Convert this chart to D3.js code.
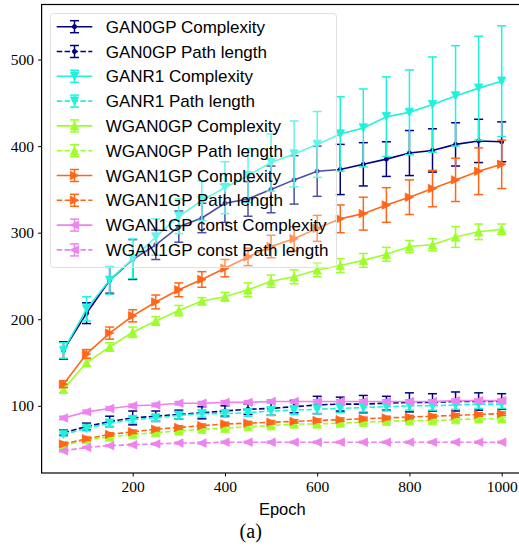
<!DOCTYPE html>
<html>
<head>
<meta charset="utf-8">
<script src="https://cdn.jsdelivr.net/npm/d3@7"></script>
<style>
  body { margin: 0; background: #fff; }
  svg { display: block; }
</style>
</head>
<body>
<svg id="chart" width="519" height="556"></svg>
<script>
// epochs on the x axis
var epochs = [50, 100, 150, 200, 250, 300, 350, 400, 450, 500, 550, 600, 650, 700, 750, 800, 850, 900, 950, 1000];

// mean values
var gan0gpComplexity = [164, 207, 245, 269, 286, 307, 317, 334, 339, 350, 361, 371, 373, 379, 385, 392, 395, 402, 406, 405];
var gan0gpComplexityErr = [10, 12, 15, 23, 17, 18, 17, 22, 20, 27, 28, 29, 29, 25, 20, 26, 25, 25, 25, 23];
var gan0gpPath = [69, 76, 82, 86, 88, 90, 92, 94, 96, 97, 99, 101, 102, 102, 103, 104, 104, 105, 105, 105];
var gan0gpPathErr = [3, 4, 6, 8, 6, 5, 7, 6, 6, 8, 7, 10, 8, 10, 8, 11, 10, 11, 10, 9];

var ganr1Complexity = [164, 212, 245, 270, 295, 319, 337, 352, 366, 381, 391, 402, 414, 421, 434, 439, 448, 458, 467, 475];
var ganr1ComplexityErr = [9, 14, 16, 23, 21, 20, 23, 30, 31, 33, 38, 38, 43, 45, 46, 49, 55, 58, 60, 64];
var ganr1Path = [67, 74, 80, 84, 86, 89, 91, 91, 92, 94, 95, 96, 97, 98, 99, 100, 100, 101, 102, 102];
var ganr1PathErr = [2, 3, 4, 4, 4, 4, 4, 4, 4, 5, 5, 5, 5, 5, 5, 5, 5, 5, 5, 5];

var wgan0gpComplexity = [119, 150, 168, 185, 198, 210, 221, 226, 234, 244, 249, 257, 262, 268, 275, 284, 286, 295, 301, 304];
var wgan0gpComplexityErr = [4, 4, 5, 6, 5, 6, 4, 5, 8, 7, 8, 8, 8, 8, 8, 7, 7, 12, 9, 6];
var wgan0gpPath = [54, 61, 64, 67, 69, 71, 73, 74, 76, 77, 79, 79, 80, 81, 82, 83, 83, 84, 85, 85];
var wgan0gpPathErr = [2, 2, 2, 2, 2, 2, 2, 2, 2, 2, 2, 2, 2, 2, 2, 2, 2, 2, 2, 2];

var wgan1gpComplexity = [125, 160, 184, 204, 220, 234, 246, 259, 272, 284, 293, 305, 316, 322, 332, 341, 351, 361, 371, 379];
var wgan1gpComplexityErr = [4, 5, 7, 7, 8, 8, 9, 10, 10, 13, 14, 15, 16, 19, 20, 20, 21, 25, 27, 28];
var wgan1gpPath = [56, 62, 67, 70, 73, 75, 77, 79, 80, 81, 82, 83, 84, 85, 86, 87, 88, 89, 90, 91];
var wgan1gpPathErr = [2, 2, 2, 2, 2, 2, 2, 2, 2, 2, 2, 2, 2, 2, 2, 2, 2, 2, 2, 2];

var wgan1gpConstComplexity = [86, 93, 97, 100, 101, 103, 103, 104, 104, 105, 105, 105, 105, 105, 105, 105, 105, 106, 106, 106];
var wgan1gpConstComplexityErr = [2, 2, 2, 2, 2, 2, 2, 2, 2, 2, 2, 2, 2, 2, 2, 2, 2, 2, 2, 2];
var wgan1gpConstPath = [48, 52, 54, 55, 56, 57, 57, 58, 58, 58, 58, 58, 58, 58, 58, 58, 58, 58, 58, 58];
var wgan1gpConstPathErr = [1, 1, 1, 1, 1, 1, 1, 1, 1, 1, 1, 1, 1, 1, 1, 1, 1, 1, 1, 1];

var xTicks = [200, 400, 600, 800, 1000];
var yTicks = [100, 200, 300, 400, 500];

// series in drawing order (later ones on top)
var series = [
  {name: "GAN0GP Complexity", y: gan0gpComplexity, err: gan0gpComplexityErr, color: "#000080", dash: false, marker: "dot"},
  {name: "GAN0GP Path length", y: gan0gpPath, err: gan0gpPathErr, color: "#000080", dash: true, marker: "dot"},
  {name: "GANR1 Complexity", y: ganr1Complexity, err: ganr1ComplexityErr, color: "#1ff2dc", dash: false, marker: "down"},
  {name: "GANR1 Path length", y: ganr1Path, err: ganr1PathErr, color: "#1ff2dc", dash: true, marker: "down"},
  {name: "WGAN0GP Complexity", y: wgan0gpComplexity, err: wgan0gpComplexityErr, color: "#9cff2a", dash: false, marker: "up"},
  {name: "WGAN0GP Path length", y: wgan0gpPath, err: wgan0gpPathErr, color: "#9cff2a", dash: true, marker: "up"},
  {name: "WGAN1GP Complexity", y: wgan1gpComplexity, err: wgan1gpComplexityErr, color: "#ff6619", dash: false, marker: "right"},
  {name: "WGAN1GP Path length", y: wgan1gpPath, err: wgan1gpPathErr, color: "#ff6619", dash: true, marker: "right"},
  {name: "WGAN1GP const Complexity", y: wgan1gpConstComplexity, err: wgan1gpConstComplexityErr, color: "#ee82ee", dash: false, marker: "left"},
  {name: "WGAN1GP const Path length", y: wgan1gpConstPath, err: wgan1gpConstPathErr, color: "#ee82ee", dash: true, marker: "left"}
];

var svg = d3.select("#chart");

var plotLeft = 41.6, plotRight = 523.6, plotTop = 4.5, plotBottom = 473;

var x = d3.scaleLinear().domain([2.5, 1047.5]).range([plotLeft, plotRight]);
var y = d3.scaleLinear().domain([22.4, 563.6]).range([plotBottom, plotTop]);

var dashArray = "5.5,2.4";
var capHalf = 4.5;

// marker path builder, triangles like matplotlib
function markerPath(kind) {
  var s = 4.2;
  if (kind == "dot") return d3.symbol().type(d3.symbolCircle).size(14)();
  var pts;
  if (kind == "up") pts = [[0, -s], [-s, s], [s, s]];
  if (kind == "down") pts = [[0, s], [-s, -s], [s, -s]];
  if (kind == "right") pts = [[s, 0], [-s, -s], [-s, s]];
  if (kind == "left") pts = [[-s, 0], [s, -s], [s, s]];
  return "M" + pts.map(p => p.join(",")).join("L") + "Z";
}

var plot = svg.append("g");

series.forEach(function (s) {
  var pts = epochs.map((e, i) => ({x: e, y: s.y[i], e: s.err[i]}));
  var g = plot.append("g");

  // error bars
  var eb = g.selectAll("g.err").data(pts).enter().append("g").attr("class", "err")
    .style("stroke", s.color).style("stroke-width", 1.5);
  eb.append("line")
    .attr("x1", d => x(d.x)).attr("x2", d => x(d.x))
    .attr("y1", d => y(d.y - d.e)).attr("y2", d => y(d.y + d.e));
  eb.append("line")
    .attr("x1", d => x(d.x) - capHalf).attr("x2", d => x(d.x) + capHalf)
    .attr("y1", d => y(d.y + d.e)).attr("y2", d => y(d.y + d.e));
  eb.append("line")
    .attr("x1", d => x(d.x) - capHalf).attr("x2", d => x(d.x) + capHalf)
    .attr("y1", d => y(d.y - d.e)).attr("y2", d => y(d.y - d.e));

  // line
  var line = d3.line().x(d => x(d.x)).y(d => y(d.y));
  g.append("path")
    .datum(pts)
    .attr("d", line)
    .style("fill", "none")
    .style("stroke", s.color)
    .style("stroke-width", 1.6)
    .style("stroke-dasharray", s.dash ? dashArray : null);

  // markers
  g.selectAll("path.mk").data(pts).enter().append("path")
    .attr("class", "mk")
    .attr("d", markerPath(s.marker))
    .attr("transform", d => "translate(" + x(d.x) + "," + y(d.y) + ")")
    .style("fill", s.color)
    .style("stroke", s.color)
    .style("stroke-width", 0.8);
});

// axes frame
var frame = svg.append("g").style("stroke", "#000").style("stroke-width", 1.2).style("fill", "none");
frame.append("rect").attr("x", plotLeft).attr("y", plotTop)
  .attr("width", plotRight - plotLeft).attr("height", plotBottom - plotTop);

var xAxis = svg.append("g")
  .attr("transform", "translate(0," + plotBottom + ")")
  .call(d3.axisBottom(x).tickValues(xTicks).tickFormat(d3.format("d")).tickSize(3.5).tickPadding(4));
var yAxis = svg.append("g")
  .attr("transform", "translate(" + plotLeft + ",0)")
  .call(d3.axisLeft(y).tickValues(yTicks).tickFormat(d3.format("d")).tickSize(3.5).tickPadding(4));

[xAxis, yAxis].forEach(function (a) {
  a.select(".domain").remove();
  a.selectAll(".tick line").style("stroke", "#000").style("stroke-width", 1);
  a.selectAll(".tick text")
    .style("font-family", "'Liberation Serif', 'DejaVu Serif', serif")
    .style("font-size", "15.5px")
    .style("fill", "#000");
});

svg.append("text")
  .attr("x", 282.3).attr("y", 515)
  .attr("text-anchor", "middle")
  .style("font-family", "'Liberation Sans', Arial, sans-serif")
  .style("font-size", "16.5px")
  .text("Epoch");

svg.append("text")
  .attr("x", 250.7).attr("y", 538)
  .attr("text-anchor", "middle")
  .style("font-family", "'Liberation Serif', 'DejaVu Serif', serif")
  .style("font-size", "20px")
  .text("(a)");

// legend, mostly see-through like the original
var legend = svg.append("g");
legend.append("rect")
  .attr("x", 50.5).attr("y", 13.5).attr("width", 286).attr("height", 254)
  .attr("rx", 3)
  .style("fill", "#fff").style("fill-opacity", 0.3)
  .style("stroke", "#e0e0e0").style("stroke-width", 1);

var rowStep = 24.8;
series.forEach(function (s, i) {
  var cy = 26.7 + i * rowStep;
  var row = legend.append("g").attr("transform", "translate(0," + cy + ")");
  row.append("line")
    .attr("x1", 56.7).attr("x2", 92.3).attr("y1", 0).attr("y2", 0)
    .style("stroke", s.color).style("stroke-width", 1.6)
    .style("stroke-dasharray", s.dash ? dashArray : null);
  row.append("line").attr("x1", 74.5).attr("x2", 74.5).attr("y1", -6).attr("y2", 6)
    .style("stroke", s.color).style("stroke-width", 1.5);
  row.append("line").attr("x1", 74.5 - capHalf).attr("x2", 74.5 + capHalf).attr("y1", -6).attr("y2", -6)
    .style("stroke", s.color).style("stroke-width", 1.5);
  row.append("line").attr("x1", 74.5 - capHalf).attr("x2", 74.5 + capHalf).attr("y1", 6).attr("y2", 6)
    .style("stroke", s.color).style("stroke-width", 1.5);
  row.append("path").attr("d", markerPath(s.marker))
    .attr("transform", "translate(74.5,0)")
    .style("fill", s.color).style("stroke", s.color).style("stroke-width", 0.8);
  row.append("text")
    .attr("x", 105.7).attr("y", 6)
    .style("font-family", "'Liberation Sans', Arial, sans-serif")
    .style("font-size", "17px")
    .style("fill", "#000")
    .text(s.name);
});
</script>
</body>
</html>
